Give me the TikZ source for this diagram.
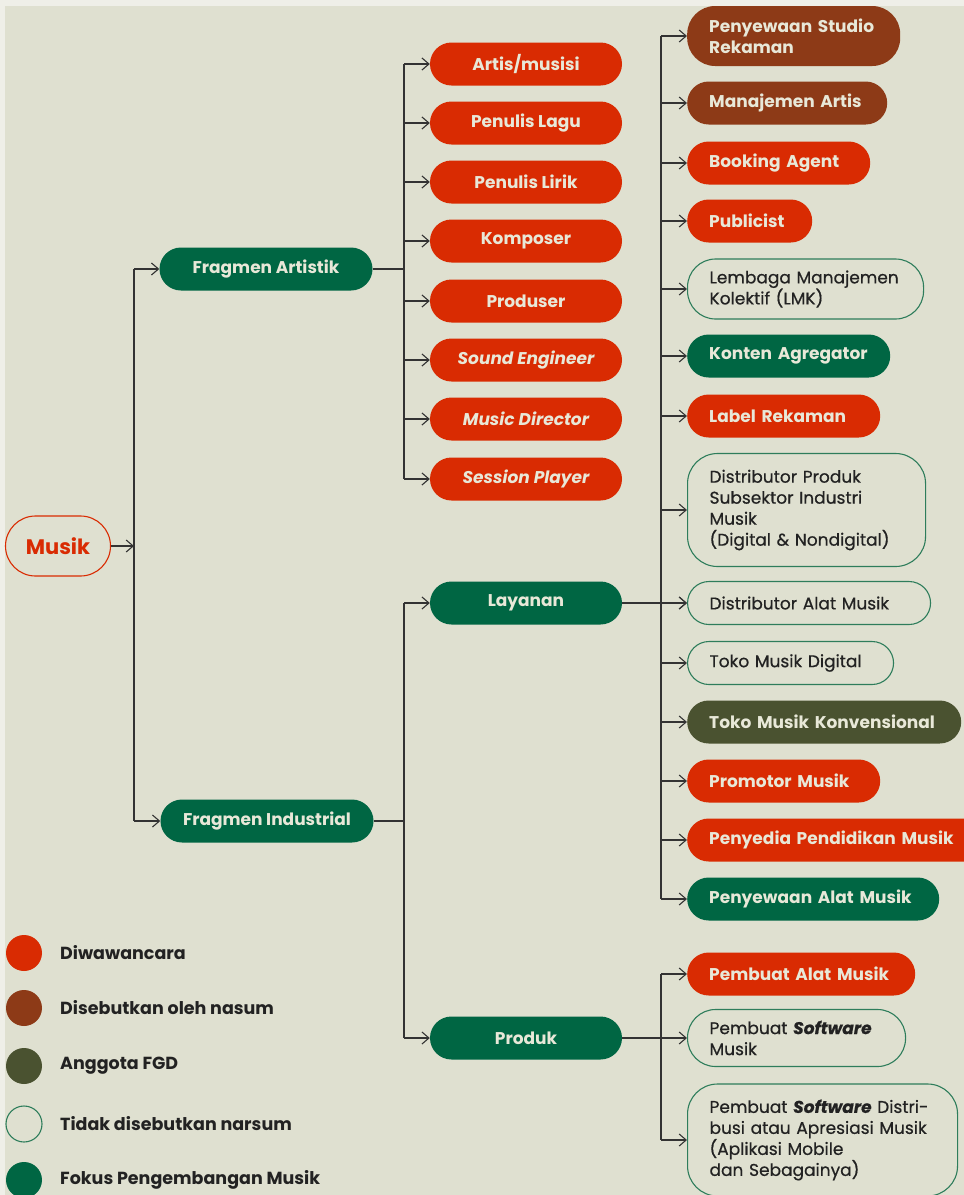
\documentclass[tikz,border=0pt]{standalone}
\usepackage{fontspec}
\setmainfont{Poppins}
\newfontfamily\medfont{Poppins}[FakeBold=0.6]
\usetikzlibrary{arrows.meta}

\definecolor{redc}{HTML}{D92B02}
\definecolor{brownc}{HTML}{8D3A17}
\definecolor{olivec}{HTML}{4A5230}
\definecolor{greenc}{HTML}{006643}
\definecolor{linec}{HTML}{2E7D5B}
\definecolor{paper}{HTML}{E8E8D8}
\definecolor{bgc}{HTML}{DFE0D0}
\definecolor{rimc}{HTML}{EFEFE8}
\definecolor{ink}{HTML}{222222}
\definecolor{wirec}{HTML}{333333}

\tikzset{
    wire/.style={draw=wirec, line width=1.1pt},
    tip/.style={wire, -{Straight Barb[length=7pt,width=12pt]}},
    pill/.style={rounded corners=21.5pt, minimum height=43pt, inner xsep=22pt, inner ysep=0pt,
        font=\bfseries\fontsize{17}{21}\selectfont, text=paper},
    redpill/.style={pill, fill=redc},
    brownpill/.style={pill, fill=brownc},
    olivepill/.style={pill, fill=olivec},
    greenpill/.style={pill, fill=greenc},
    plainpill/.style={pill, draw=linec, line width=1.1pt, text=ink, font=\medfont\fontsize{17}{21}\selectfont},
    mid/.style={minimum width=192pt},
    side/.style={anchor=west, align=left, text width=#1},
    dot/.style={circle, minimum size=36pt, inner sep=0pt},
    key/.style={anchor=west, inner xsep=0pt, text=ink, font=\bfseries\fontsize{17.5}{21}\selectfont}
}

\begin{document}
\begin{tikzpicture}[x=1pt, y=-1pt]

    % Background
    \fill[rimc] (0,0) rectangle (964,1195);
    \fill[bgc] (5,6) rectangle (964,1195);
    \useasboundingbox (0,0) rectangle (964,1195);

    %% Tree

    % Root
    \node[pill, draw=redc, line width=1.1pt, text=redc, minimum width=105pt, minimum height=60pt,
        rounded corners=30pt, inner xsep=0pt, font=\bfseries\fontsize{21}{24}\selectfont] (musik) at (58,546) {Musik};

    % Fragments
    \node[greenpill, minimum width=213pt] (fa) at (266,269) {Fragmen Artistik};
    \node[greenpill, minimum width=213pt] (fi) at (267,821) {Fragmen Industrial};

    % Artistic roles
    \node[redpill, mid] (a1) at (526,64) {Artis/musisi};
    \node[redpill, mid] (a2) at (526,123) {Penulis Lagu};
    \node[redpill, mid] (a3) at (526,182) {Penulis Lirik};
    \node[redpill, mid] (a4) at (526,241) {Komposer};
    \node[redpill, mid] (a5) at (526,301) {Produser};
    \node[redpill, mid] (a6) at (526,360) {\itshape Sound Engineer};
    \node[redpill, mid] (a7) at (526,419) {\itshape Music Director};
    \node[redpill, mid] (a8) at (526,479) {\itshape Session Player};

    % Industrial branches
    \node[greenpill, mid] (lay) at (526,603) {Layanan};
    \node[greenpill, mid] (prod) at (526,1038) {Produk};

    % Services
    \node[brownpill, side=169pt, minimum height=60pt, rounded corners=28pt] (l1) at (687,36) {Penyewaan Studio\\Rekaman};
    \node[brownpill, side=156pt] (l2) at (687,103) {Manajemen Artis};
    \node[redpill, side=139pt] (l3) at (687,163) {Booking Agent};
    \node[redpill, side=81pt] (l4) at (687,221) {Publicist};
    \node[plainpill, side=192pt, minimum height=60pt, rounded corners=28pt] (l5) at (687,289) {Lembaga Manajemen\\Kolektif (LMK)};
    \node[greenpill, side=159pt] (l6) at (687,356) {Konten Agregator};
    \node[redpill, side=149pt] (l7) at (687,416) {Label Rekaman};
    \node[plainpill, side=194pt, minimum height=113pt, rounded corners=30pt] (l8) at (687,510)
        {Distributor Produk\\Subsektor Industri\\Musik\\(Digital \& Nondigital)};
    \node[plainpill, side=199pt] (l9) at (687,603) {Distributor Alat Musik};
    \node[plainpill, side=162pt] (l10) at (687,663) {Toko Musik Digital};
    \node[olivepill, side=230pt] (l11) at (687,722) {Toko Musik Konvensional};
    \node[redpill, side=149pt] (l12) at (687,781) {Promotor Musik};
    \node[redpill, side=259pt] (l13) at (687,840) {Penyedia Pendidikan Musik};
    \node[greenpill, side=208pt] (l14) at (687,899) {Penyewaan Alat Musik};

    % Products
    \node[redpill, side=184pt] (p1) at (687,974) {Pembuat Alat Musik};
    \node[plainpill, side=174pt, minimum height=57pt, rounded corners=28pt] (p2) at (687,1038)
        {Pembuat \textbf{\itshape Software}\\Musik};
    \node[plainpill, side=226pt, minimum height=112pt, rounded corners=30pt] (p3) at (687,1140)
        {Pembuat \textbf{\itshape Software} Distri-\\busi atau Apresiasi Musik\\(Aplikasi Mobile\\dan Sebagainya)};

    %% Connectors

    \coordinate (sp1) at (134,546);
    \coordinate (sp2) at (404,546);
    \coordinate (sp3) at (661,546);

    % Root to fragments
    \draw[tip] (musik.east) -- (sp1);
    \draw[wire] (sp1 |- fa) -- (sp1 |- fi);
    \draw[tip] (sp1 |- fa) -- (fa.west);
    \draw[tip] (sp1 |- fi) -- (fi.west);

    % Artistic fragment
    \draw[wire] (fa.east) -- (sp2 |- fa);
    \draw[wire] (sp2 |- a1) -- (sp2 |- a8);
    \foreach \i in {1,...,8}
        \draw[tip] (sp2 |- a\i) -- (a\i.west);

    % Industrial fragment
    \draw[wire] (fi.east) -- (sp2 |- fi);
    \draw[wire] (sp2 |- lay) -- (sp2 |- prod);
    \draw[tip] (sp2 |- lay) -- (lay.west);
    \draw[tip] (sp2 |- prod) -- (prod.west);

    % Services
    \draw[tip] (lay.east) -- (l9.west);
    \draw[wire] (sp3 |- l1) -- (sp3 |- l14);
    \foreach \i in {1,...,14}
        \draw[tip] (sp3 |- l\i) -- (l\i.west);

    % Products
    \draw[tip] (prod.east) -- (p2.west);
    \draw[wire] (sp3 |- p1) -- (sp3 |- p3);
    \draw[tip] (sp3 |- p1) -- (p1.west);
    \draw[tip] (sp3 |- p3) -- (p3.west);

    %% Legend
    \node[dot, fill=redc] (k1) at (24,953) {};
    \node[key] at (60,953) {Diwawancara};
    \node[dot, fill=brownc] (k2) at (24,1008) {};
    \node[key] at (60,1008) {Disebutkan oleh nasum};
    \node[dot, fill=olivec] (k3) at (24,1066) {};
    \node[key] at (60,1066) {Anggota FGD};
    \node[dot, draw=linec, line width=1.1pt] (k4) at (24,1124) {};
    \node[key] at (60,1124) {Tidak disebutkan narsum};
    \node[dot, fill=greenc] (k5) at (24,1180) {};
    \node[key] at (60,1180) {Fokus Pengembangan Musik};

\end{tikzpicture}
\end{document}
